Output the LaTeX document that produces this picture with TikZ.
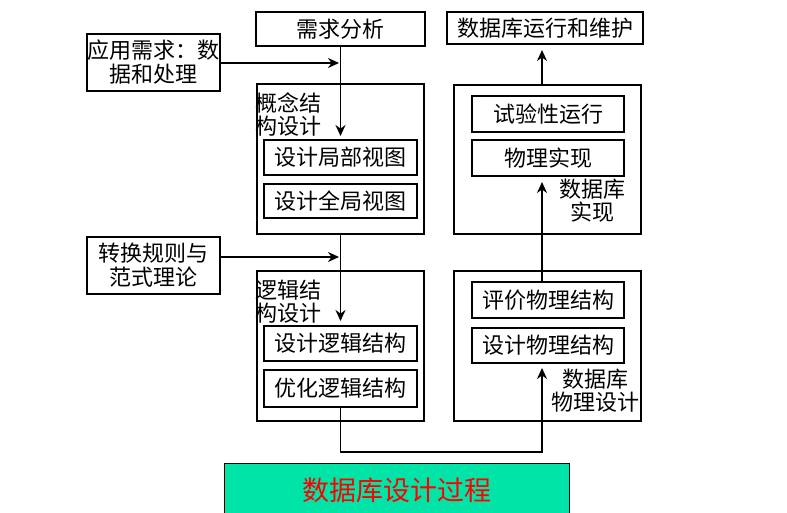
\documentclass[tikz,border=0pt]{standalone}
\usepackage{fontspec}
\setmainfont{Noto Sans CJK SC}
\usetikzlibrary{arrows.meta}
\definecolor{titlegreen}{RGB}{0,228,168}
\tikzset{
 box/.style={draw, line width=1.8pt, inner sep=0pt, font=\fontsize{22}{24}\selectfont, align=center},
 frame/.style={draw, line width=1.8pt, inner sep=0pt},
 lbl/.style={inner sep=0pt, font=\fontsize{22}{23}\selectfont},
 conn/.style={line width=1.8pt},
 arr/.style={conn, -{Stealth[length=11pt,width=10pt]}},
}
\begin{document}
\begin{tikzpicture}[x=1pt,y=-1pt]
\useasboundingbox (0,0) rectangle (787,513);
% left column
\node[box, minimum width=169, minimum height=34] (req) at (340.5,29) {需求分析};
\node[box, minimum width=133, minimum height=57] (app) at (153.5,62.5) {应用需求：数\\据和处理};
\node[frame, minimum width=167, minimum height=150] (conc) at (340.5,159) {};
\node[box, minimum width=153, minimum height=35] (lv1) at (340.5,157.5) {设计局部视图};
\node[box, minimum width=153, minimum height=34] (lv2) at (340.5,201) {设计全局视图};
\node[lbl, anchor=west, align=left] (concl) at (255,114) {概念结\\构设计};
\node[box, minimum width=133, minimum height=57] (rule) at (153.5,265.5) {转换规则与\\范式理论};
\node[frame, minimum width=167, minimum height=150] (logic) at (340.5,346) {};
\node[box, minimum width=153, minimum height=35] (lg1) at (340.5,343.5) {设计逻辑结构};
\node[box, minimum width=153, minimum height=37] (lg2) at (340.5,388.5) {优化逻辑结构};
\node[lbl, anchor=west, align=left] (logicl) at (255,302) {逻辑结\\构设计};
% right column
\node[box, minimum width=196, minimum height=32] (maint) at (545,28) {数据库运行和维护};
\node[frame, minimum width=187, minimum height=149] (impl) at (547.5,159.5) {};
\node[box, minimum width=152, minimum height=36] (im1) at (548,114) {试验性运行};
\node[box, minimum width=152, minimum height=36] (im2) at (548,158) {物理实现};
\node[lbl, align=center] (impll) at (592,201) {数据库\\实现};
\node[frame, minimum width=187, minimum height=150] (phys) at (547.5,346) {};
\node[box, minimum width=152, minimum height=36] (ph1) at (548,300) {评价物理结构};
\node[box, minimum width=152, minimum height=35] (ph2) at (548,345.5) {设计物理结构};
\node[lbl, align=center] (physl) at (595,391) {数据库\\物理设计};
% connectors
\coordinate (a1) at (340.5,136);
\coordinate (a2) at (339,63);
\coordinate (a3) at (340.5,321);
\coordinate (a4) at (339,257);
\coordinate (a5) at (542,368);
\coordinate (a6) at (542,182);
\coordinate (a7) at (542,50);
\draw[arr] (req.south) -- (a1);
\draw[arr] (app.east |- a2) -- (a2);
\draw[arr] (conc.south) -- (a3);
\draw[arr] (rule.east |- a4) -- (a4);
\draw[arr] (lg2.south) -- ++(0,44) -| (a5);
\draw[arr] (ph1.north -| a6) -- (a6);
\draw[arr] (impl.north -| a7) -- (a7);
% title
\node[draw, line width=1pt, fill=titlegreen, minimum width=345, minimum height=60, inner sep=0pt, anchor=north west] (title) at (224,463) {};
\node[text=red, font=\fontsize{27}{29}\selectfont, inner sep=0pt] (titlet) at (396.5,490) {数据库设计过程};
\end{tikzpicture}
\end{document}
